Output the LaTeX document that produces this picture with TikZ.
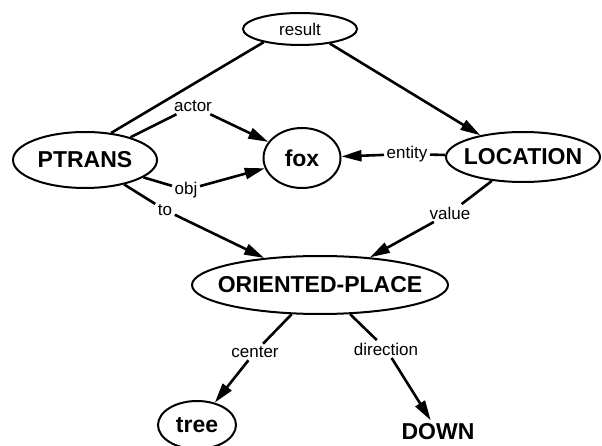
\documentclass[tikz,border=0pt]{standalone}
\usepackage{fontspec}
\setmainfont{Liberation Sans}
\usetikzlibrary{shapes.geometric,arrows.meta}

\begin{document}
\begin{tikzpicture}[
  x=1pt, y=-1pt,
  concept/.style={ellipse, draw, line width=2pt, inner sep=0pt,
    font=\fontsize{23}{23}\selectfont\bfseries,
    execute at begin node={\hbox to 0pt\bgroup\hss},
    execute at end node={\hss\egroup}},
  slot/.style={inner sep=2.5pt, font=\fontsize{17}{17}\selectfont},
  link/.style={line width=2.6pt},
  fillarrow/.style={link, -{Triangle[length=20pt,width=11pt]}}
]
\useasboundingbox (0,0) rectangle (602,446);

% ── Concept nodes ───────────────────────────────────────────────
\node[concept, minimum width=114pt, minimum height=32pt,
      font=\fontsize{17}{17}\selectfont] (result) at (300,29) {result};
\node[concept, minimum width=144pt, minimum height=56pt] (PTRANS)   at (85,160)  {PTRANS};
\node[concept, minimum width=77pt,  minimum height=60pt] (fox)      at (302,158) {fox};
\node[concept, minimum width=154pt, minimum height=50pt] (LOCATION) at (523,157) {LOCATION};
\node[concept, minimum width=256pt, minimum height=58pt] (OP)       at (320,285) {ORIENTED-PLACE};
\node[concept, minimum width=78pt,  minimum height=48pt] (tree)     at (197,425) {tree};
\node[font=\fontsize{23}{23}\selectfont\bfseries]        (DOWN)     at (438,432) {DOWN};

% ── Slot labels (edges run through them) ────────────────────────
\node[slot] (l-actor)     at (193,106) {actor};
\node[slot] (l-obj)       at (186,190) {obj};
\node[slot] (l-to)        at (165,210) {to};
\node[slot] (l-entity)    at (407,154) {entity};
\node[slot] (l-value)     at (450,213) {value};
\node[slot] (l-center)    at (255,352) {center};
\node[slot] (l-direction) at (386,349) {direction};

% ── result: PTRANS -> LOCATION ─────────────────────────────────
\draw[link]      (PTRANS.46) -- (result.200);
\draw[fillarrow] (result.334) -- (LOCATION.153);

% ── PTRANS slots ────────────────────────────────────────────────
\draw[link] (PTRANS) -- (l-actor);  \draw[fillarrow] (l-actor) -- (fox);
\draw[link] (PTRANS) -- (l-obj);    \draw[fillarrow] (l-obj) -- (fox);
\draw[link] (PTRANS) -- (l-to);     \draw[fillarrow] (l-to) -- (OP);

% ── LOCATION slots ──────────────────────────────────────────────
\draw[link] (LOCATION) -- (l-entity); \draw[fillarrow] (l-entity) -- (fox);
\draw[link] (LOCATION) -- (l-value);  \draw[fillarrow] (l-value) -- (OP);

% ── ORIENTED-PLACE slots ────────────────────────────────────────
\draw[link] (OP) -- (l-center);    \draw[fillarrow] (l-center) -- (tree);
\draw[link] (OP) -- (l-direction); \draw[fillarrow] (l-direction) -- (DOWN);

\end{tikzpicture}
\end{document}
